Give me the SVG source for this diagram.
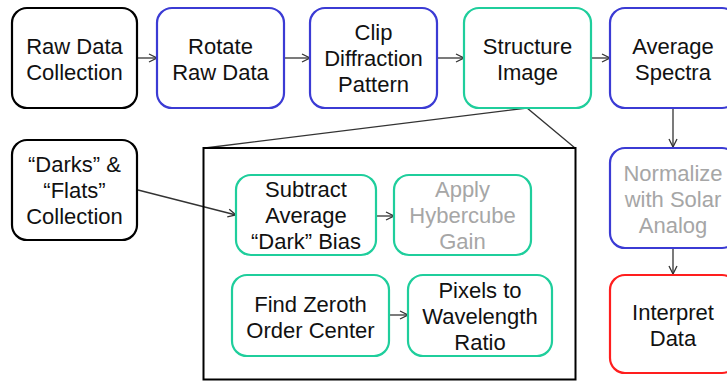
<svg xmlns="http://www.w3.org/2000/svg" width="727" height="381" viewBox="0 0 727 381">
<style>
.box{fill:#fff;stroke-width:2.2}
.k{stroke:#000}
.b{stroke:#3b3bd4}
.g{stroke:#1fce9c}
.r{stroke:#ff1e1e}
text{font-family:"Liberation Sans",Arial,sans-serif;font-size:22px;fill:#111;text-anchor:middle}
.gray{fill:#a6a6a6}
.c{stroke:#333;stroke-width:1.3;fill:none}
</style>
<defs>
<marker id="ah" markerWidth="10" markerHeight="10" refX="9" refY="5" orient="auto" markerUnits="userSpaceOnUse">
<path d="M1,1 L9,5 L1,9" fill="none" stroke="#333" stroke-width="1.3"/>
</marker>
</defs>
<rect width="727" height="381" fill="#fff"/>
<g id="connectors">
<line class="c" x1="137" y1="58" x2="157" y2="58" marker-end="url(#ah)"/>
<line class="c" x1="284" y1="58" x2="310" y2="58" marker-end="url(#ah)"/>
<line class="c" x1="437" y1="58" x2="464" y2="58" marker-end="url(#ah)"/>
<line class="c" x1="591" y1="58" x2="610" y2="58" marker-end="url(#ah)"/>
<line class="c" x1="673" y1="108" x2="673" y2="147" marker-end="url(#ah)"/>
<line class="c" x1="673" y1="248" x2="673" y2="274" marker-end="url(#ah)"/>
<line class="c" x1="138" y1="190" x2="236" y2="215" marker-end="url(#ah)"/>
<line class="c" x1="376" y1="216" x2="394" y2="216" marker-end="url(#ah)"/>
<line class="c" x1="389" y1="315" x2="408" y2="315" marker-end="url(#ah)"/>
<polyline class="c" points="205,148 527,108 575,148"/>
</g>
<g id="zoom-box"><rect x="203.5" y="148" width="372" height="231.5" fill="none" stroke="#000" stroke-width="2"/></g>
<g id="raw"><rect class="box k" x="12" y="8" width="125" height="100" rx="15"/><text x="74.5" y="53.5">Raw Data</text><text x="74.5" y="79.5">Collection</text></g>
<g id="rotate"><rect class="box b" x="157" y="8" width="127" height="100" rx="15"/><text x="220.5" y="53.5">Rotate</text><text x="220.5" y="79.5">Raw Data</text></g>
<g id="clip"><rect class="box b" x="310" y="8" width="127" height="100" rx="15"/><text x="373.5" y="40">Clip</text><text x="373.5" y="66">Diffraction</text><text x="373.5" y="92">Pattern</text></g>
<g id="structure"><rect class="box g" x="464" y="8" width="127" height="100" rx="15"/><text x="527.5" y="53.5">Structure</text><text x="527.5" y="79.5">Image</text></g>
<g id="average"><rect class="box b" x="610" y="8" width="127" height="100" rx="15"/><text x="673" y="53.5">Average</text><text x="673" y="79.5">Spectra</text></g>
<g id="darks"><rect class="box k" x="12" y="140" width="125" height="100" rx="15"/><text x="74.5" y="171.5">“Darks” &amp;</text><text x="74.5" y="197.5">“Flats”</text><text x="74.5" y="223.5">Collection</text></g>
<g id="subtract"><rect class="box g" x="236" y="175" width="140" height="80" rx="15"/><text x="306" y="196.5">Subtract</text><text x="306" y="222.5">Average</text><text x="306" y="248.5">“Dark” Bias</text></g>
<g id="apply"><rect class="box g" x="394" y="175" width="137" height="80" rx="15"/><text class="gray" x="462.5" y="196.5">Apply</text><text class="gray" x="462.5" y="222.5">Hybercube</text><text class="gray" x="462.5" y="248.5">Gain</text></g>
<g id="zeroth"><rect class="box g" x="232" y="275" width="157" height="81" rx="15"/><text x="310.5" y="311.5">Find Zeroth</text><text x="310.5" y="337.5">Order Center</text></g>
<g id="pixels"><rect class="box g" x="408" y="275" width="144" height="81" rx="15"/><text x="480" y="297.5">Pixels to</text><text x="480" y="323.5">Wavelength</text><text x="480" y="349.5">Ratio</text></g>
<g id="normalize"><rect class="box b" x="610" y="148" width="127" height="100" rx="15"/><text class="gray" x="673" y="180.5">Normalize</text><text class="gray" x="673" y="206.5">with Solar</text><text class="gray" x="673" y="232.5">Analog</text></g>
<g id="interpret"><rect class="box r" x="610" y="275" width="127" height="98" rx="15"/><text x="673" y="319.5">Interpret</text><text x="673" y="345.5">Data</text></g>
</svg>
